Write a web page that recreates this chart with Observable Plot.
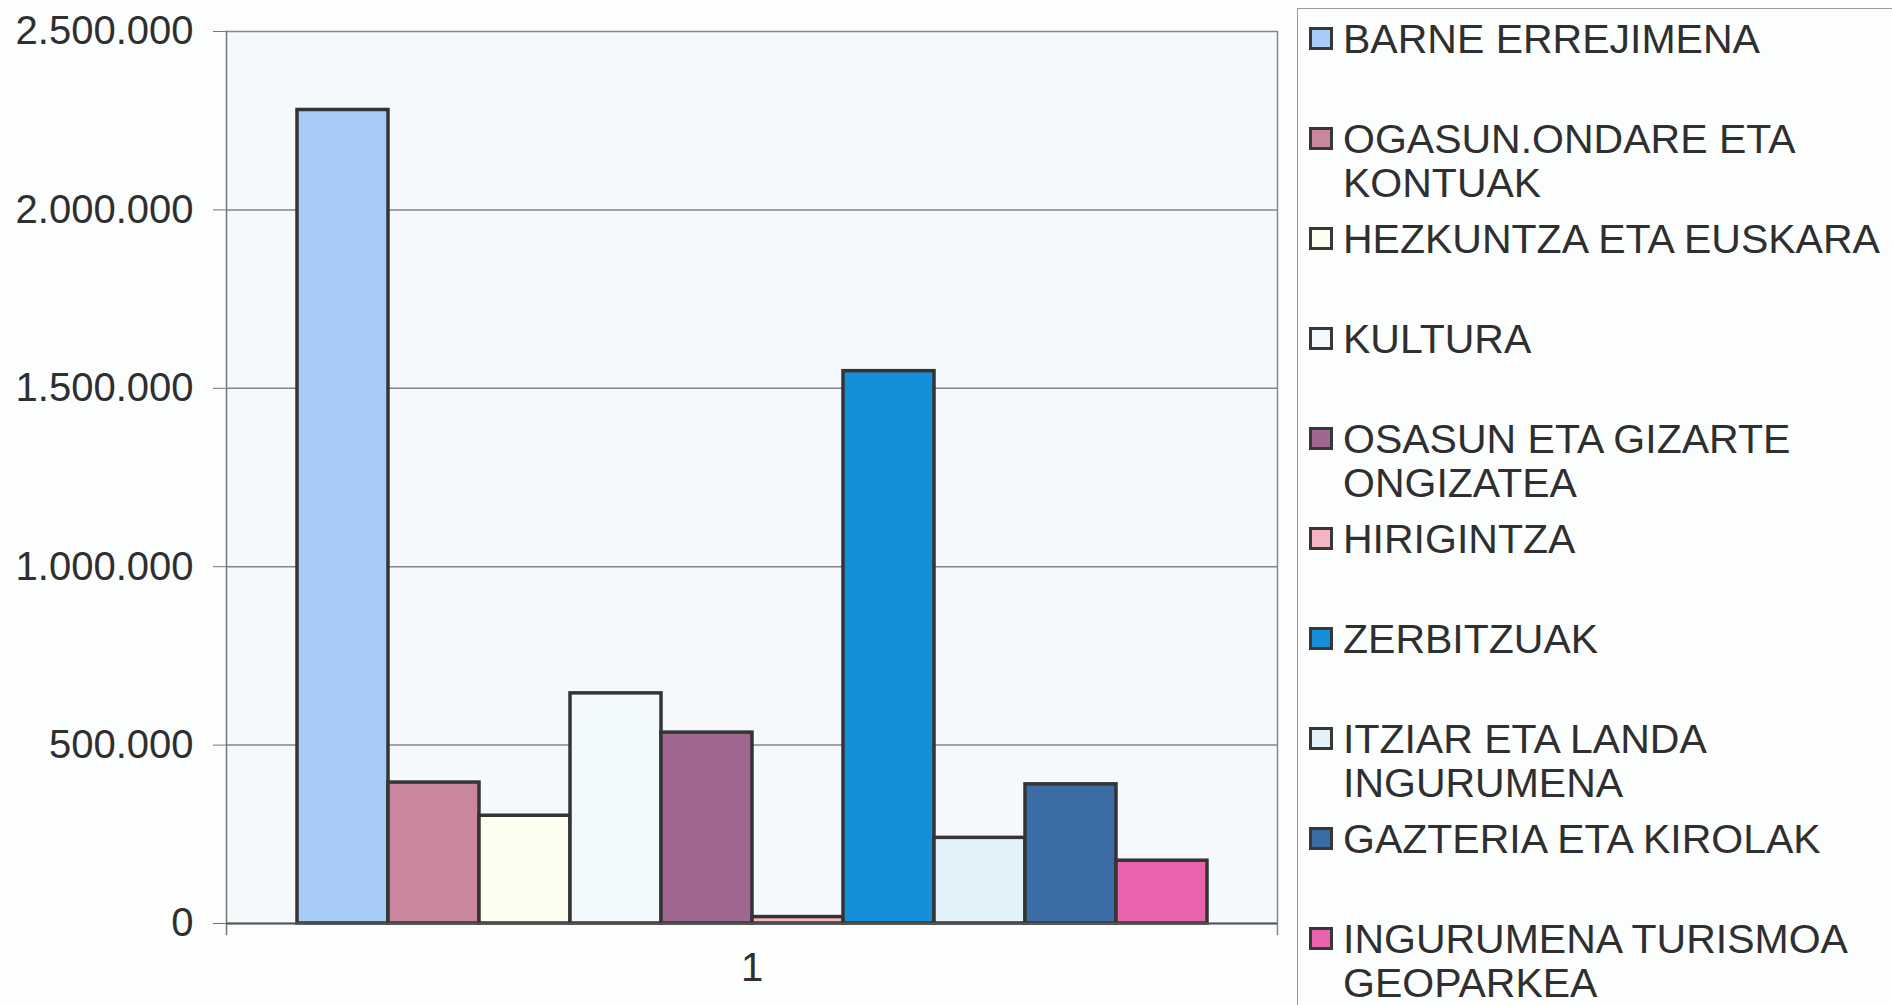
<!DOCTYPE html>
<html>
<head>
<meta charset="utf-8">
<script src="https://cdn.jsdelivr.net/npm/d3@7"></script>
<script src="https://cdn.jsdelivr.net/npm/@observablehq/plot@0.6"></script>
<style>
  html, body { margin: 0; padding: 0; }
  body { width: 1892px; height: 1005px; overflow: hidden; position: relative; background: #fcfdfd;
         font-family: "Liberation Sans", Arial, sans-serif; color: #333; }
  #chart { position: absolute; left: 0; top: 0; }
  #legend { position: absolute; left: 1297px; top: 8px; width: 700px; height: 1100px;
            border: 1.5px solid #9a9a9a; box-sizing: border-box; }
  .entry { position: relative; height: 100px; }
  .sw { position: absolute; left: 11px; top: 18px; width: 24px; height: 23px; border: 3px solid #383838; box-sizing: border-box; }
  .lab { position: absolute; left: 45px; top: 8px; width: 560px; font-size: 41px; line-height: 44px; color: #2f2f2f; }
</style>
</head>
<body>
<div id="chart"></div>
<div id="legend"></div>
<script>
const categories = ["1"];
const departments = [
  "BARNE ERREJIMENA",
  "OGASUN.ONDARE ETA KONTUAK",
  "HEZKUNTZA ETA EUSKARA",
  "KULTURA",
  "OSASUN ETA GIZARTE ONGIZATEA",
  "HIRIGINTZA",
  "ZERBITZUAK",
  "ITZIAR ETA LANDA INGURUMENA",
  "GAZTERIA ETA KIROLAK",
  "INGURUMENA TURISMOA GEOPARKEA"
];
const values = [2280000, 395000, 302000, 645000, 535000, 18000, 1548000, 240000, 390000, 176000];
const colors = ["#a6cbf5", "#c8879f", "#fefef0", "#f2f9fc", "#a06890", "#f5b5c0", "#1590d8", "#e2f2fb", "#3c6ca6", "#e963ae"];
const yTicks = [0, 500000, 1000000, 1500000, 2000000, 2500000];

const data = departments.map((name, i) => ({name, value: values[i], color: colors[i]}));
const fmt = d3.formatLocale({decimal: ",", thousands: ".", grouping: [3], currency: ["", " €"]}).format(",d");

const chart = Plot.plot({
  width: 1290,
  height: 1005,
  marginLeft: 226,
  marginRight: 13,
  marginTop: 31,
  marginBottom: 82,
  style: {background: "transparent", fontFamily: "'Liberation Sans', Arial, sans-serif", color: "#333"},
  x: {domain: departments, paddingInner: 0, paddingOuter: 0.73, axis: null},
  y: {domain: [0, 2500000], axis: null},
  color: {type: "identity"},
  marks: [
    Plot.frame({fill: "#f5f9fb", stroke: null}),
    Plot.gridY(yTicks, {stroke: "#858585", strokeOpacity: 1, strokeWidth: 1.5}),
    Plot.axisY(yTicks, {tickSize: 13, tickPadding: 20, tickFormat: fmt, fontSize: 40, stroke: "#777", fill: "#2f2f2f", label: null}),
    Plot.frame({anchor: "left", stroke: "#777", strokeWidth: 1.5, insetBottom: -11}),
    Plot.frame({anchor: "right", stroke: "#888", strokeWidth: 1.5, insetBottom: -11}),
    Plot.barY(data, {x: "name", y: "value", fill: "color", stroke: "#343434", strokeWidth: 3.5}),
    Plot.ruleY([0], {stroke: "#555", strokeWidth: 2}),
    Plot.text(categories, {frameAnchor: "bottom", text: d => d, dy: 57, fontSize: 40, fill: "#2f2f2f"})
  ]
});
document.getElementById("chart").appendChild(chart);

const legend = d3.select("#legend");
data.forEach(d => {
  const e = legend.append("div").attr("class", "entry");
  e.append("div").attr("class", "sw").style("background", d.color);
  e.append("div").attr("class", "lab").text(d.name);
});
</script>
</body>
</html>
